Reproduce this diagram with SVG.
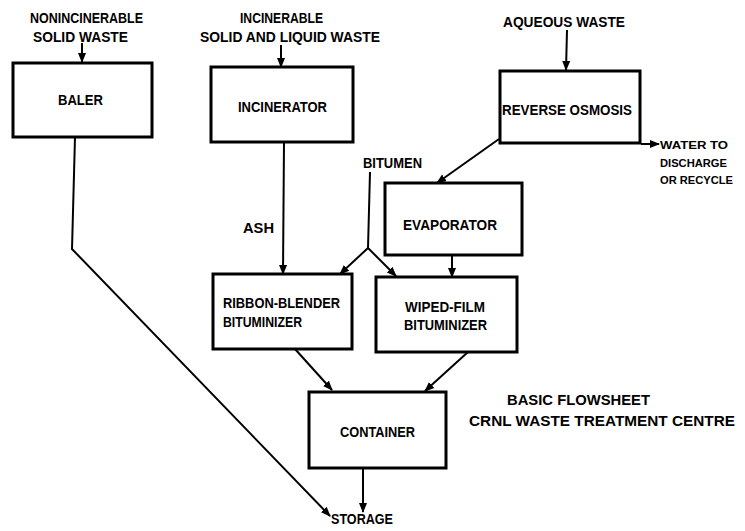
<svg xmlns="http://www.w3.org/2000/svg" width="745" height="531" viewBox="0 0 745 531">
<style>
.box{fill:#fff;stroke:#000;stroke-width:3}
.ln{fill:none;stroke:#000;stroke-width:2}
.t{font-family:"Liberation Sans",Arial,sans-serif;font-weight:bold;font-size:14.5px;fill:#000}
.ts{font-family:"Liberation Sans",Arial,sans-serif;font-weight:bold;font-size:11.5px;fill:#000}
.ti{font-family:"Liberation Sans",Arial,sans-serif;font-weight:bold;font-size:15px;fill:#000}
</style>
<defs>
<marker id="ah" markerUnits="userSpaceOnUse" markerWidth="10" markerHeight="10" viewBox="0 0 10 10" refX="9" refY="5" orient="auto">
<path d="M0,1 L10,5 L0,9 Z" fill="#000"/>
</marker>
</defs>
<g id="connectors">
<path class="ln" d="M82,43 L82,62" marker-end="url(#ah)"/>
<path class="ln" d="M281,45 L281,67" marker-end="url(#ah)"/>
<path class="ln" d="M567,30 L566,70" marker-end="url(#ah)"/>
<path class="ln" d="M641,144 L659,144" marker-end="url(#ah)"/>
<path class="ln" d="M499,139 L437,183" marker-end="url(#ah)"/>
<path class="ln" d="M284,142 L283,274" marker-end="url(#ah)"/>
<path class="ln" d="M370,172 L368,248 L340,274" marker-end="url(#ah)"/>
<path class="ln" d="M368,248 L396,276" marker-end="url(#ah)"/>
<path class="ln" d="M452,255 L452,277" marker-end="url(#ah)"/>
<path class="ln" d="M295,349 L332,390" marker-end="url(#ah)"/>
<path class="ln" d="M468,352 L425,391" marker-end="url(#ah)"/>
<path class="ln" d="M363,468 L363,512" marker-end="url(#ah)"/>
<path class="ln" d="M75,137 L72,249 L330,516" marker-end="url(#ah)"/>
</g>
<g id="baler">
<rect class="box" x="13" y="63" width="139" height="74"/>
<text class="t" x="58" y="105" textLength="45" lengthAdjust="spacingAndGlyphs">BALER</text>
</g>
<g id="incinerator">
<rect class="box" x="211" y="67" width="142" height="75"/>
<text class="t" x="238" y="112" textLength="89" lengthAdjust="spacingAndGlyphs">INCINERATOR</text>
</g>
<g id="reverse-osmosis">
<rect class="box" x="500" y="71" width="140" height="72"/>
<text class="t" x="502" y="115" textLength="130" lengthAdjust="spacingAndGlyphs">REVERSE OSMOSIS</text>
</g>
<g id="evaporator">
<rect class="box" x="385" y="183" width="137" height="72"/>
<text class="t" x="403" y="230" textLength="94" lengthAdjust="spacingAndGlyphs">EVAPORATOR</text>
</g>
<g id="ribbon-blender">
<rect class="box" x="213" y="274" width="139" height="75"/>
<text class="t" x="223" y="308" textLength="117" lengthAdjust="spacingAndGlyphs">RIBBON-BLENDER</text>
<text class="t" x="223" y="327" textLength="79" lengthAdjust="spacingAndGlyphs">BITUMINIZER</text>
</g>
<g id="wiped-film">
<rect class="box" x="376" y="277" width="141" height="75"/>
<text class="t" x="405" y="312" textLength="80" lengthAdjust="spacingAndGlyphs">WIPED-FILM</text>
<text class="t" x="404" y="330" textLength="83" lengthAdjust="spacingAndGlyphs">BITUMINIZER</text>
</g>
<g id="container">
<rect class="box" x="309" y="392" width="137" height="76"/>
<text class="t" x="340" y="437" textLength="75" lengthAdjust="spacingAndGlyphs">CONTAINER</text>
</g>
<g id="labels">
<text class="t" x="30" y="23" textLength="113" lengthAdjust="spacingAndGlyphs">NONINCINERABLE</text>
<text class="t" x="33" y="42" textLength="95" lengthAdjust="spacingAndGlyphs">SOLID WASTE</text>
<text class="t" x="240" y="23" textLength="83" lengthAdjust="spacingAndGlyphs">INCINERABLE</text>
<text class="t" x="200" y="42" textLength="180" lengthAdjust="spacingAndGlyphs">SOLID AND LIQUID WASTE</text>
<text class="t" x="503" y="27" textLength="122" lengthAdjust="spacingAndGlyphs">AQUEOUS WASTE</text>
<text class="ts" x="660" y="149" textLength="68" lengthAdjust="spacingAndGlyphs">WATER TO</text>
<text class="ts" x="660" y="167" textLength="67" lengthAdjust="spacingAndGlyphs">DISCHARGE</text>
<text class="ts" x="660" y="184" textLength="73" lengthAdjust="spacingAndGlyphs">OR RECYCLE</text>
<text class="t" x="363" y="168" textLength="59" lengthAdjust="spacingAndGlyphs">BITUMEN</text>
<text class="t" x="243" y="233" textLength="31" lengthAdjust="spacingAndGlyphs">ASH</text>
<text class="t" x="331" y="524" textLength="62" lengthAdjust="spacingAndGlyphs">STORAGE</text>
<text class="ti" x="507" y="405" textLength="143" lengthAdjust="spacingAndGlyphs">BASIC FLOWSHEET</text>
<text class="ti" x="469" y="426" textLength="266" lengthAdjust="spacingAndGlyphs">CRNL WASTE TREATMENT CENTRE</text>
</g>
</svg>
